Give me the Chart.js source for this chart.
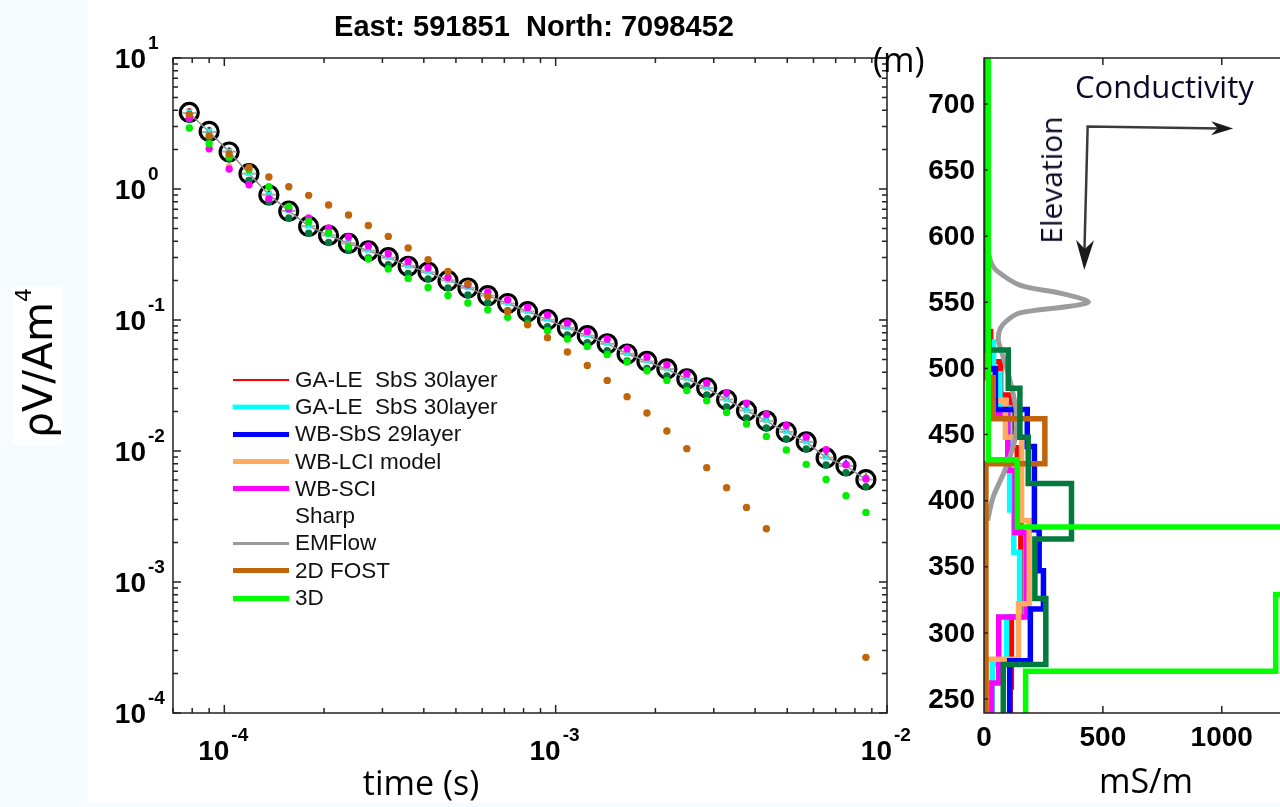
<!DOCTYPE html>
<html>
<head>
<meta charset="utf-8">
<title>TEM sounding</title>
<script src="https://cdn.jsdelivr.net/npm/chart.js@4.4.1/dist/chart.umd.min.js"></script>
<style>
  html, body { margin: 0; padding: 0; background: #fff; }
  body { position: relative; width: 1280px; height: 807px; overflow: hidden; font-family: "Liberation Sans", Arial, sans-serif; }
  #strip { position: absolute; left: 0; top: 0; width: 88px; height: 807px; background: #f5fbfe; }
  #foot { position: absolute; left: 0; top: 803px; width: 1280px; height: 4px; background: #f5fbfe; }
  canvas { position: absolute; top: 0; }
  #leftCanvas { left: 0; }
  #rightCanvas { left: 860px; }
  .t { position: absolute; white-space: pre; line-height: 1; color: #000; }
  .os { font-family: "Open Sans", sans-serif; }
  #title { left: 534px; top: 10.4px; font: bold 29px "Liberation Sans", Arial, sans-serif; transform: translateX(-50%); }
  #yBox { position: absolute; left: 13px; top: 287px; width: 50px; height: 158px; background: #fff; }
  #yLabel { left: 38px; top: 363px; font: 41px "DejaVu Sans", sans-serif; transform: translate(-50%, -50%) rotate(-90deg); }
  #yLabel span { font-size: 22px; position: relative; top: -21px; }
  #xLabel { left: 421px; top: 764.8px; font-size: 34px; transform: translateX(-50%); }
  #condLabel { left: 1146px; top: 762.8px; font-size: 34px; transform: translateX(-50%); }
  #mLabel { left: 873px; top: 42px; font-size: 34px; }
  #condNote { left: 1075px; top: 70.5px; font-size: 31px; color: #0a0a28; }
  #elevNote { left: 1051px; top: 180px; font-size: 30px; color: #0a0a28; transform: translate(-50%, -50%) rotate(-90deg); }
  #legend { position: absolute; left: 233px; top: 366px; }
  .row { display: flex; align-items: center; height: 27.3px; }
  .sw { display: inline-block; width: 56px; margin-right: 6px; }
  .lt { font-size: 22.5px; white-space: pre; color: #111; }
</style>
</head>
<body>
<div id="strip"></div>
<div id="foot"></div>
<canvas id="leftCanvas" width="930" height="807"></canvas>
<canvas id="rightCanvas" width="420" height="807"></canvas>

<div class="t" id="title">East: 591851  North: 7098452</div>
<div id="yBox"></div>
<div class="t" id="yLabel">ρV/Am<span>4</span></div>
<div class="t os" id="xLabel">time (s)</div>
<div class="t os" id="condLabel">mS/m</div>
<div class="t os" id="mLabel">(m)</div>
<div class="t os" id="condNote">Conductivity</div>
<div class="t os" id="elevNote">Elevation</div>
<div id="legend"></div>

<script>
// ---- decay data (left panel) ----
const gateTimes = [7.84e-5, 9.00e-5, 1.034e-4, 1.187e-4, 1.363e-4, 1.565e-4, 1.797e-4, 2.064e-4, 2.370e-4, 2.721e-4,
  3.125e-4, 3.588e-4, 4.121e-4, 4.732e-4, 5.434e-4, 6.240e-4, 7.165e-4, 8.228e-4, 9.448e-4, 1.085e-3,
  1.246e-3, 1.431e-3, 1.643e-3, 1.886e-3, 2.166e-3, 2.488e-3, 2.857e-3, 3.280e-3, 3.767e-3, 4.325e-3,
  4.967e-3, 5.704e-3, 6.550e-3, 7.521e-3, 8.637e-3];

const observed = [3.84, 2.75, 1.917, 1.309, 0.900, 0.677, 0.518, 0.442, 0.384, 0.337,
  0.299, 0.2567, 0.2325, 0.1995, 0.1755, 0.1533, 0.1336, 0.1157, 0.1005, 0.0869,
  0.0759, 0.0659, 0.0550, 0.0483, 0.0423, 0.0355, 0.0303, 0.0246, 0.0203, 0.0170,
  0.01396, 0.01172, 0.00885, 0.00772, 0.00604];

const emflowResp = [3.80, 2.72, 1.93, 1.31, 0.905, 0.680, 0.520, 0.443, 0.385, 0.338,
  0.298, 0.259, 0.231, 0.201, 0.176, 0.1535, 0.1338, 0.1160, 0.1003, 0.0870,
  0.0758, 0.0658, 0.0553, 0.0482, 0.0422, 0.0356, 0.0302, 0.0247, 0.0204, 0.0169,
  0.01398, 0.0117, 0.0089, 0.0077, 0.00605];

const wbSciResp = [3.48, 2.03, 1.42, 1.078, 0.843, 0.704, 0.601, 0.504, 0.430, 0.369,
  0.3207, 0.280, 0.2507, 0.2115, 0.186, 0.1636, 0.1429, 0.1248, 0.1092, 0.0948,
  0.0818, 0.0716, 0.0604, 0.0522, 0.0456, 0.0389, 0.0330, 0.0277, 0.0232, 0.0190,
  0.01567, 0.01279, 0.01023, 0.00786, 0.00611];

const fwd3dResp = [2.92, 2.218, 1.755, 1.404, 1.041, 0.737, 0.566, 0.4614, 0.3608, 0.2922,
  0.2451, 0.2078, 0.1774, 0.1541, 0.1349, 0.1198, 0.1050, 0.0932, 0.0829, 0.0716,
  0.0629, 0.0546, 0.0478, 0.0410, 0.0346, 0.0290, 0.0242, 0.0197, 0.01607, 0.01293,
  0.01018, 0.00791, 0.00607, 0.00456, 0.0034];

const fost2dResp = [3.7, 2.55, 1.85, 1.462, 1.235, 1.041, 0.894, 0.755, 0.633, 0.527,
  0.4346, 0.3544, 0.2886, 0.235, 0.1893, 0.1514, 0.1163, 0.0921, 0.0733, 0.0570,
  0.0450, 0.0346, 0.0260, 0.0195, 0.01422, 0.01042, 0.00746, 0.00525, 0.00371, 0.00255,
  null, null, null, null, 2.66e-4];

const sharpResp = [3.40, 2.43, 1.70, 1.16, 0.80, 0.60, 0.46, 0.39, 0.34, 0.298,
  0.264, 0.227, 0.206, 0.176, 0.155, 0.1355, 0.118, 0.1023, 0.0888, 0.0768,
  0.0671, 0.0583, 0.0486, 0.0427, 0.0374, 0.0314, 0.0268, 0.0217, 0.0179, 0.0150,
  0.01234, 0.01036, 0.00782, 0.00682, 0.00534];

const gaLe2Resp = [3.9, 2.78, 1.95, 1.33, 0.915, 0.69, 0.527, 0.45, 0.39, 0.343,
  0.304, 0.261, 0.236, 0.203, 0.178, 0.156, 0.136, 0.1175, 0.102, 0.0883,
  0.0772, 0.067, 0.0559, 0.0491, 0.043, 0.0361, 0.0308, 0.025, 0.0206, 0.0173,
  0.0142, 0.0119, 0.009, 0.00785, 0.00614];

const gaLeResp = [3.98, 2.86, 1.99, 1.36, 0.935, 0.703, 0.538, 0.459, 0.399, 0.350,
  0.311, 0.267, 0.242, 0.207, 0.182, 0.159, 0.139, 0.120, 0.1045, 0.0904,
  0.0789, 0.0685, 0.0572, 0.0502, 0.0440, 0.0369, 0.0315, 0.0256, 0.0211, 0.0177,
  0.01452, 0.01219, 0.0092, 0.00803, 0.00628];

const wbLciResp = [3.7, 2.6, 1.5, 1.32, 0.91, 0.70, 0.53, 0.45, 0.39, 0.345,
  0.30, 0.26, 0.235, 0.202, 0.178, 0.155, 0.135, 0.117, 0.102, 0.088,
  0.077, 0.0667, 0.0557, 0.0489, 0.0428, 0.036, 0.0307, 0.0249, 0.0206, 0.0172,
  0.0142, 0.0119, 0.0091, 0.0079, 0.0063];

const wbSbsResp = [3.9, 2.8, 1.95, 1.34, 0.93, 0.70, 0.545, 0.468, 0.408, 0.358,
  0.318, 0.273, 0.248, 0.213, 0.187, 0.164, 0.143, 0.1238, 0.1075, 0.093,
  0.0812, 0.0705, 0.0589, 0.0517, 0.0453, 0.038, 0.0324, 0.0263, 0.0217, 0.0182,
  0.01494, 0.01254, 0.00947, 0.00826, 0.00646];

const timeTickExps = [-4, -3, -2];
const respTickExps = [1, 0, -1, -2, -3, -4];

// ---- conductivity models (right panel): layer tops (m) and mS/m ----
const gaLeTops = [735, 528, 505, 480, 440, 395, 312, 259];
const gaLeCond = [3, 28, 70, 115, 140, 155, 115, 110];
const gaLe2Tops = [735, 520, 496, 470, 393, 361, 312, 276];
const gaLe2Cond = [3, 40, 67, 108, 125, 150, 95, 35];
const wbSbsTops = [735, 520, 500, 469, 441, 378, 347, 318, 279];
const wbSbsCond = [3, 20, 48, 182, 212, 232, 250, 195, 108];
const wbLciTops = [735, 495, 476, 448, 385, 322, 280];
const wbLciCond = [5, 40, 90, 158, 190, 145, 10];
const wbSciTops = [735, 520, 497, 466, 423, 376, 312, 262];
const wbSciCond = [3, 15, 32, 100, 130, 180, 62, 32];
const sharpTops = [735, 514, 485, 448, 413, 371, 326, 276];
const sharpCond = [10, 102, 151, 186, 368, 214, 260, 81];
const fost2dTops = [735, 493, 462, 428];
const fost2dCond = [5, 39, 256, 8];
const fwd3dTops = [735, 431, 380, 329, 271];
const fwd3dCond = [18, 140, 1500, 1227, 175];
const emflowElev = [592, 580, 574, 563, 557, 550.5, 547, 542, 536, 530, 522, 512, 491, 466, 446, 423, 403, 385];
const emflowCond = [12, 30, 53, 151, 319, 438, 361, 151, 95, 68, 60, 75, 109, 137, 130, 88, 39, 15];
const profileBottom = 239;

const elevTicks = [250, 300, 350, 400, 450, 500, 550, 600, 650, 700];
const condTicks = [0, 500, 1000];

// legend
const modelNames = ['GA-LE  SbS 30layer', 'GA-LE  SbS 30layer', 'WB-SbS 29layer', 'WB-LCI model', 'WB-SCI', 'Sharp', 'EMFlow', '2D FOST', '3D'];
const modelColors = ['#ff0000', '#00ffff', '#0000ff', '#ffaa5e', '#ff00ff', '#ffffff', '#999999', '#c0650a', '#00ff00'];
const legendWidths = [2, 4, 5, 5, 5, 3, 3, 5, 5];
const sharpColor = '#007a3d';
const axisColor = '#222';

// annotation arrows (in mS/m, m)
const arrowCorner = { x: 436, y: 683 };
const arrowRightTip = { x: 1048, y: 681.5 };
const arrowDownTip = { x: 422, y: 574.5 };

// ---------- helpers ----------
function pts(vals) {
  return gateTimes.map((t, i) => ({ x: t, y: vals[i] })).filter(p => p.y !== null);
}

function profile(tops, cond) {
  const out = tops.map((t, i) => ({ x: cond[i], y: t }));
  out.push({ x: cond[cond.length - 1], y: profileBottom });
  return out;
}

function logTicks(min, max) {
  const list = [];
  for (let e = Math.floor(Math.log10(min)); e <= Math.ceil(Math.log10(max)); e++) {
    for (let m = 1; m <= 9; m++) {
      const v = m * Math.pow(10, e);
      if (v >= min * 0.999 && v <= max * 1.001) list.push({ v: v, major: m === 1 });
    }
  }
  return list;
}

// "10" with a raised exponent
function powerLabel(ctx, xRight, yMid, exp) {
  ctx.font = 'bold 28px "Liberation Sans", Arial';
  ctx.textAlign = 'right';
  ctx.textBaseline = 'middle';
  ctx.fillText('10', xRight, yMid);
  ctx.font = 'bold 19px "Liberation Sans", Arial';
  ctx.textAlign = 'left';
  ctx.fillText(String(exp), xRight + 2, yMid - 16);
}

const leftFrame = {
  id: 'leftFrame',
  afterDraw(chart) {
    const { ctx, chartArea: a } = chart;
    const xs = chart.scales.x, ys = chart.scales.y;
    ctx.save();
    ctx.strokeStyle = axisColor;
    ctx.lineWidth = 1.5;
    ctx.strokeRect(a.left, a.top, a.right - a.left, a.bottom - a.top);
    ctx.beginPath();
    logTicks(xs.min, xs.max).forEach(tk => {
      const px = xs.getPixelForValue(tk.v);
      const len = tk.major ? 8 : 5;
      ctx.moveTo(px, a.bottom); ctx.lineTo(px, a.bottom - len);
      ctx.moveTo(px, a.top); ctx.lineTo(px, a.top + len);
    });
    logTicks(ys.min, ys.max).forEach(tk => {
      const py = ys.getPixelForValue(tk.v);
      const len = tk.major ? 8 : 5;
      ctx.moveTo(a.left, py); ctx.lineTo(a.left + len, py);
      ctx.moveTo(a.right, py); ctx.lineTo(a.right - len, py);
    });
    ctx.stroke();

    ctx.fillStyle = '#000';
    timeTickExps.forEach(e => {
      const px = xs.getPixelForValue(Math.pow(10, e));
      powerLabel(ctx, px + 5, a.bottom + 39, e);
    });
    respTickExps.forEach(e => {
      const py = ys.getPixelForValue(Math.pow(10, e));
      powerLabel(ctx, a.left - 27, py + 2, e);
    });
    ctx.restore();
  }
};

function arrowHead(ctx, tip, dx, dy, len, half) {
  // dx,dy: unit direction of the arrow
  const bx = tip.x - dx * len, by = tip.y - dy * len;
  const nx = -dy, ny = dx;
  ctx.beginPath();
  ctx.moveTo(tip.x, tip.y);
  ctx.lineTo(bx + nx * half, by + ny * half);
  ctx.lineTo(tip.x - dx * len * 0.7, tip.y - dy * len * 0.7);
  ctx.lineTo(bx - nx * half, by - ny * half);
  ctx.closePath();
  ctx.fill();
}

const rightFrame = {
  id: 'rightFrame',
  afterDraw(chart) {
    const { ctx, chartArea: a } = chart;
    const xs = chart.scales.x, ys = chart.scales.y;
    ctx.save();
    ctx.strokeStyle = axisColor;
    ctx.lineWidth = 1.5;
    ctx.beginPath();
    ctx.moveTo(a.right + 2, a.top); ctx.lineTo(a.left, a.top);
    ctx.lineTo(a.left, a.bottom); ctx.lineTo(a.right + 2, a.bottom);
    elevTicks.forEach(v => {
      const py = ys.getPixelForValue(v);
      ctx.moveTo(a.left, py); ctx.lineTo(a.left + 4, py);
    });
    condTicks.forEach(v => {
      if (v === 0) return;
      const px = xs.getPixelForValue(v);
      ctx.moveTo(px, a.bottom); ctx.lineTo(px, a.bottom - 7);
      ctx.moveTo(px, a.top); ctx.lineTo(px, a.top + 7);
    });
    ctx.stroke();

    ctx.fillStyle = '#000';
    ctx.font = 'bold 28px "Liberation Sans", Arial';
    ctx.textAlign = 'right';
    ctx.textBaseline = 'middle';
    elevTicks.forEach(v => ctx.fillText(String(v), a.left - 9, ys.getPixelForValue(v) + 1));
    ctx.textAlign = 'center';
    condTicks.forEach(v => ctx.fillText(String(v), xs.getPixelForValue(v), a.bottom + 25));

    // Conductivity / Elevation arrows
    const c = { x: xs.getPixelForValue(arrowCorner.x), y: ys.getPixelForValue(arrowCorner.y) };
    const r = { x: xs.getPixelForValue(arrowRightTip.x), y: ys.getPixelForValue(arrowRightTip.y) };
    const d = { x: xs.getPixelForValue(arrowDownTip.x), y: ys.getPixelForValue(arrowDownTip.y) };
    ctx.strokeStyle = '#3a3a3a';
    ctx.fillStyle = '#1a1a1a';
    ctx.lineWidth = 2.5;
    ctx.beginPath();
    ctx.moveTo(r.x - 12, r.y); ctx.lineTo(c.x, c.y); ctx.lineTo(d.x, d.y - 15);
    ctx.stroke();
    let len = Math.hypot(r.x - c.x, r.y - c.y);
    arrowHead(ctx, r, (r.x - c.x) / len, (r.y - c.y) / len, 22, 7);
    len = Math.hypot(d.x - c.x, d.y - c.y);
    arrowHead(ctx, d, (d.x - c.x) / len, (d.y - c.y) / len, 30, 9);
    ctx.restore();
  }
};

// ---------- legend ----------
const legendEl = document.getElementById('legend');
modelNames.forEach((name, i) => {
  const row = document.createElement('div');
  row.className = 'row';
  const sw = document.createElement('span');
  sw.className = 'sw';
  sw.style.height = legendWidths[i] + 'px';
  sw.style.background = modelColors[i];
  if (i === 1) sw.style.boxShadow = '0 0 0 1px #a8ffff';
  const tx = document.createElement('span');
  tx.className = 'lt';
  tx.textContent = name;
  row.appendChild(sw);
  row.appendChild(tx);
  legendEl.appendChild(row);
});

// ---------- left: decay curves ----------
function dots(label, vals, color, radius, order, style) {
  return {
    label: label, data: pts(vals), order: order,
    pointStyle: style || 'circle', pointRadius: radius,
    backgroundColor: color, borderColor: color, pointBorderWidth: style === 'crossRot' ? 2 : 0
  };
}

new Chart(document.getElementById('leftCanvas'), {
  type: 'scatter',
  data: {
    datasets: [
      dots('2D FOST', fost2dResp, modelColors[7], 3.7, 1),
      dots('3D', fwd3dResp, '#00ee00', 3.7, 2),
      dots('WB-SCI', wbSciResp, modelColors[4], 3.7, 3),
      dots('GA-LE 2', gaLe2Resp, modelColors[1], 4, 4, 'crossRot'),
      dots('Sharp', sharpResp, sharpColor, 3.7, 5),
      dots('GA-LE', gaLeResp, modelColors[0], 2.5, 6),
      dots('WB-LCI model', wbLciResp, modelColors[3], 3, 7),
      dots('WB-SbS', wbSbsResp, modelColors[2], 3, 8, 'triangle'),
      {
        label: 'EMFlow', data: pts(emflowResp), order: 9, showLine: true,
        borderColor: '#8c8c8c', borderWidth: 1.5,
        pointStyle: 'line', pointRadius: 7, pointBorderWidth: 2, pointBorderColor: '#a8a8a8'
      },
      {
        label: 'Observed', data: pts(observed), order: 10,
        pointRadius: 9, pointBorderWidth: 3.2, pointBorderColor: '#000', pointBackgroundColor: 'rgba(0,0,0,0)'
      }
    ]
  },
  options: {
    responsive: false,
    animation: false,
    events: [],
    layout: { padding: { left: 173, right: 43, top: 58, bottom: 94 } },
    scales: {
      x: { type: 'logarithmic', min: 7.0e-5, max: 1e-2, display: false },
      y: { type: 'logarithmic', min: 1e-4, max: 10, display: false }
    },
    plugins: { legend: { display: false }, tooltip: { enabled: false } }
  },
  plugins: [leftFrame]
});

// ---------- right: conductivity sections ----------
function stepLine(label, tops, cond, color, order) {
  return {
    label: label, data: profile(tops, cond), order: order, showLine: true, stepped: 'after',
    borderColor: color, borderWidth: 5.5, pointRadius: 0, clip: 0,
    borderJoinStyle: 'miter', borderCapStyle: 'butt'
  };
}

new Chart(document.getElementById('rightCanvas'), {
  type: 'scatter',
  data: {
    datasets: [
      stepLine('3D', fwd3dTops, fwd3dCond, modelColors[8], 1),
      stepLine('Sharp', sharpTops, sharpCond, sharpColor, 2),
      stepLine('2D FOST', fost2dTops, fost2dCond, modelColors[7], 3),
      {
        label: 'EMFlow', data: emflowCond.map((c, i) => ({ x: c, y: emflowElev[i] })), order: 4,
        showLine: true, tension: 0.3, borderColor: '#9c9c9c', borderWidth: 5, pointRadius: 0, clip: 0
      },
      stepLine('WB-SbS', wbSbsTops, wbSbsCond, modelColors[2], 5),
      stepLine('WB-LCI', wbLciTops, wbLciCond, modelColors[3], 6),
      stepLine('WB-SCI', wbSciTops, wbSciCond, modelColors[4], 7),
      stepLine('GA-LE 2', gaLe2Tops, gaLe2Cond, modelColors[1], 8),
      stepLine('GA-LE', gaLeTops, gaLeCond, modelColors[0], 9)
    ]
  },
  options: {
    responsive: false,
    animation: false,
    events: [],
    layout: { padding: { left: 124, right: 0, top: 58, bottom: 94 } },
    scales: {
      x: { type: 'linear', min: 0, max: 1245, display: false },
      y: { type: 'linear', min: 239.4, max: 734.8, display: false }
    },
    plugins: { legend: { display: false }, tooltip: { enabled: false } }
  },
  plugins: [rightFrame]
});
</script>
</body>
</html>
